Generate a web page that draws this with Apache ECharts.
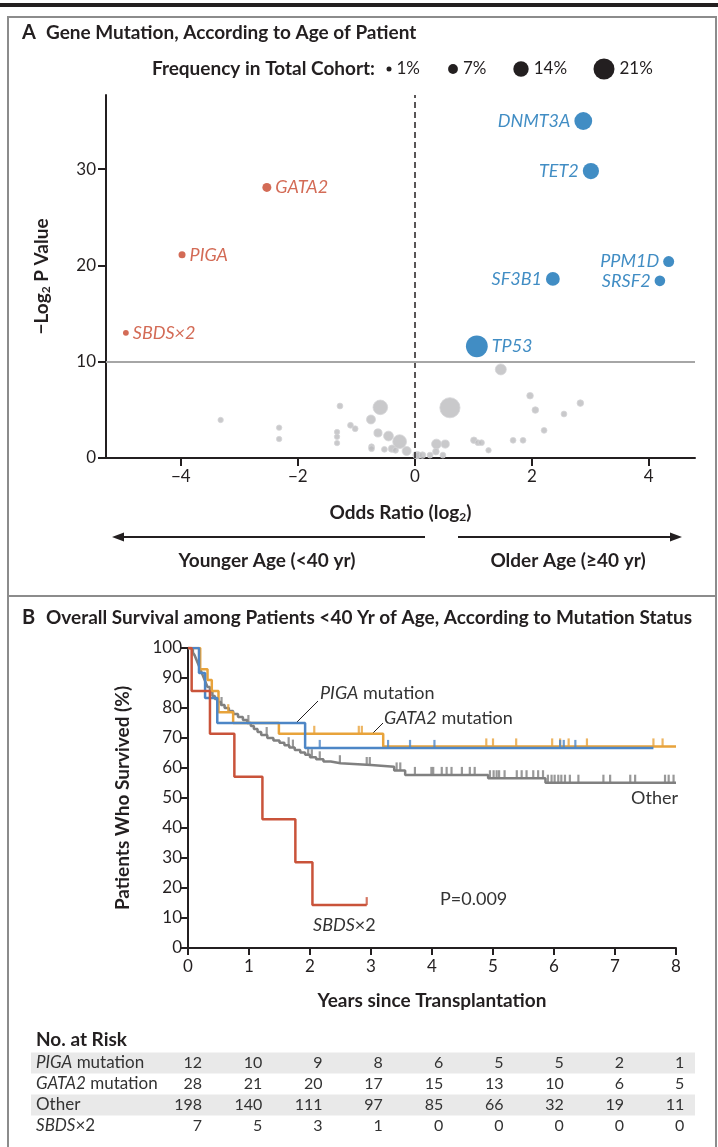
<!DOCTYPE html>
<html>
<head>
<meta charset="utf-8">
<script src="https://cdn.jsdelivr.net/npm/echarts@6.0.0/dist/echarts.min.js"></script>
<style>
  html, body { margin: 0; padding: 0; background: #fff; }
  #chart { width: 718px; height: 1147px; }
</style>
</head>
<body>
<div id="chart"></div>
<script>
// ---- Panel A data: log2 odds ratio, -log2 P value, frequency in cohort (%)
const geneNames = ['DNMT3A', 'TET2', 'GATA2', 'PIGA', 'PPM1D', 'SRSF2', 'SF3B1', 'SBDS×2', 'TP53'];
const geneOdds = [2.88, 3.01, -2.53, -3.98, 4.34, 4.19, 2.36, -4.94, 1.06];
const geneLogP = [35.0, 29.8, 28.1, 21.1, 20.4, 18.4, 18.6, 13.0, 11.6];
const geneFreq = [17, 15, 6, 3.5, 8.5, 8, 12, 2, 22];

const otherOdds = [-3.32, -2.32, -2.32, -1.28, -1.33, -1.33, -1.33, -1.10, -1.02, -0.59, -0.75, -0.63, -0.45, -0.26,
  -0.74, -0.74, -0.52, -0.39, -0.33, -0.14, 0.03, 0.60, 1.47, 1.97, 2.06, 2.83, 2.55, 2.21, 1.01, 1.08, 1.14, 1.26,
  1.68, 1.85, 0.37, 0.52, 0.36, 0.48, 0.26, 0.06, 0.13];
const otherLogP = [3.95, 3.15, 1.97, 5.4, 2.7, 2.2, 1.55, 3.4, 3.04, 5.26, 4.0, 2.6, 2.28, 1.7,
  1.17, 0.97, 0.9, 0.97, 0.8, 0.73, 0.3, 5.22, 9.2, 6.47, 4.98, 5.7, 4.57, 2.87, 1.84, 1.59, 1.59, 0.8,
  1.84, 1.84, 1.45, 1.45, 0.66, 0.3, 0.3, 0.3, 0.3];
const otherFreq = [1.5, 1.5, 1.5, 2, 1.5, 1.5, 1.5, 2, 2, 13, 6, 5, 7, 12,
  2, 2, 2, 4, 2, 6, 4, 20, 8.5, 3, 3, 3, 2, 2, 3, 2, 2, 1.5,
  2, 2, 7, 5, 3, 2, 2, 3, 3];

const legendFreq = [1, 7, 14, 21];
const oddsTicks = [-4, -2, 0, 2, 4];
const logPTicks = [0, 10, 20, 30];

// ---- Panel B data: Kaplan-Meier steps (years, % surviving) and censoring times
const pigaTimes = [0, 0.18, 0.28, 0.48, 1.92, 7.63];
const pigaSurv = [100, 91.7, 83.3, 75.0, 66.7, 66.7];
const pigaCensor = [2.16, 3.28, 3.64, 4.04, 6.10, 6.16, 6.35];

const gata2Times = [0, 0.20, 0.32, 0.39, 0.50, 0.74, 1.49, 3.20, 8.0];
const gata2Surv = [100, 92.9, 89.3, 85.7, 78.6, 75.0, 71.4, 67.2, 67.2];
const gata2Censor = [0.66, 2.07, 2.80, 2.85, 4.89, 5.00, 5.38, 5.97, 6.10, 6.24, 6.54, 7.63, 7.78];

const otherTimes = [0, 0.04, 0.08, 0.11, 0.14, 0.17, 0.20, 0.23, 0.26, 0.29, 0.32, 0.36, 0.40, 0.44, 0.49, 0.54,
  0.60, 0.67, 0.74, 0.82, 0.90, 0.97, 1.03, 1.08, 1.14, 1.20, 1.30, 1.40, 1.50, 1.58, 1.66, 1.75, 1.84, 1.92,
  2.00, 2.10, 2.22, 2.34, 2.50, 3.00, 3.38, 3.56, 4.92, 5.86, 8.0];
const otherSurv = [100, 99.5, 98.5, 97.5, 96, 94.5, 93, 91.5, 90, 88.5, 87, 85.5, 84, 83, 82, 81,
  80, 79, 78, 77, 76, 75, 74, 73, 72, 71, 70, 69.2, 68.4, 67.6, 66.8, 66, 65.2, 64.4,
  63.6, 62.9, 62.2, 61.6, 61, 60.4, 59.2, 57.7, 56.6, 55.1, 55.1];
const otherCensor = [0.55, 0.99, 1.29, 1.65, 1.72, 1.97, 2.03, 2.16, 2.49, 2.93, 2.98, 3.42, 3.48, 3.72, 3.99,
  4.02, 4.16, 4.24, 4.32, 4.49, 4.62, 4.70, 4.95, 5.01, 5.06, 5.10, 5.19, 5.39, 5.47, 5.55, 5.66, 5.74, 5.82,
  5.90, 5.96, 6.01, 6.07, 6.12, 6.18, 6.26, 6.40, 6.81, 6.92, 7.25, 7.33, 7.82, 7.88, 7.96];

const sbdsTimes = [0, 0.06, 0.36, 0.76, 1.22, 1.76, 2.04, 2.93];
const sbdsSurv = [100, 85.7, 71.4, 57.1, 42.9, 28.6, 14.3, 14.3];
const sbdsCensor = [2.93];

// ---- No. at risk table
const riskGroups = ['{i|PIGA} mutation', '{i|GATA2} mutation', 'Other', '{i|SBDS}×2'];
const riskPiga = [12, 10, 9, 8, 6, 5, 5, 2, 1];
const riskGata2 = [28, 21, 20, 17, 15, 13, 10, 6, 5];
const riskOther = [198, 140, 111, 97, 85, 66, 32, 19, 11];
const riskSbds = [7, 5, 3, 1, 0, 0, 0, 0, 0];

const FONT = 'Lato, "Open Sans", sans-serif';
const INK = '#231f20';
const RED = '#c8462c';
const BLUE = '#1170b5';
const C_GRAY = '#808080', C_ORANGE = '#e8a33b', C_BLUE = '#4d86c6', C_RED = '#c9533a';
const BOLD_SIZE = 19;
const TEXT_SIZE = 18;

const dotSize = (f) => 4.2 + 0.8 * f;
const minus = (v) => (v < 0 ? '\u2212' + Math.abs(v) : String(v));

function zip(a, b) { return a.map((v, i) => [v, b[i]]); }
// value of a KM step curve at time t (last step at or before t)
function stepAt(times, surv, t) {
  let s = surv[0];
  times.forEach((tt, i) => { if (tt <= t) s = surv[i]; });
  return s;
}

const chart = echarts.init(document.getElementById('chart'), null, { renderer: 'canvas' });

const geneData = geneNames.map((n, i) => {
  const younger = geneOdds[i] < 0;
  const color = younger ? RED : BLUE;
  const right = younger || n === 'TP53';
  return {
    name: n,
    value: [geneOdds[i], geneLogP[i], geneFreq[i]],
    itemStyle: { color },
    label: { position: right ? 'right' : 'left', color }
  };
});

function axisCommon(extra) {
  return Object.assign({
    type: 'value',
    axisLine: { show: true, onZero: false, lineStyle: { color: INK, width: 2 } },
    axisTick: { show: true, length: 7, lineStyle: { color: INK, width: 2 } },
    axisLabel: { color: INK, fontFamily: FONT, fontSize: 16 },
    splitLine: { show: false },
    nameTextStyle: {
      color: INK, fontFamily: FONT, fontSize: BOLD_SIZE, fontWeight: 'bold',
      rich: { sub: { fontFamily: FONT, fontSize: 12, fontWeight: 'bold', color: INK, padding: [8, 0, 0, 0] } }
    }
  }, extra);
}

const kmLine = (name, times, surv, color, z) => ({
  name, type: 'line', xAxisIndex: 1, yAxisIndex: 1, step: 'end', symbol: 'none', z,
  data: zip(times, surv), lineStyle: { color, width: 2.5 }, silent: true
});
const kmCensor = (name, times, surv, censor, color, z) => ({
  name: name + ' censored', type: 'scatter', xAxisIndex: 1, yAxisIndex: 1, z,
  symbol: 'rect', symbolSize: [2.2, 8], symbolOffset: [0, -4],
  itemStyle: { color }, silent: true,
  data: censor.map(t => [t, stepAt(times, surv, t)])
});

// graphic pieces
const graphics = [];
graphics.push({ type: 'rect', shape: { x: 0, y: 3, width: 718, height: 4 }, style: { fill: INK } });
graphics.push({ type: 'rect', shape: { x: 8, y: 17, width: 708, height: 1140 }, style: { fill: 'none', stroke: '#8c8c8c', lineWidth: 2 } });
graphics.push({ type: 'line', shape: { x1: 8, y1: 596, x2: 716, y2: 596 }, style: { stroke: '#8c8c8c', lineWidth: 2 } });

function txt(x, y, text, opt, size) {
  const fs = size || TEXT_SIZE;
  graphics.push({
    type: 'text', x, y,
    style: Object.assign({
      text, fill: INK, fontFamily: FONT, fontSize: fs,
      verticalAlign: 'middle', align: 'left',
      rich: { i: { fontStyle: 'italic', fontFamily: FONT, fontSize: fs, fill: (opt && opt.fill) || INK } }
    }, opt || {})
  });
}
txt(22, 33, 'A', { fontWeight: 'bold' }, 20);
txt(46, 33, 'Gene Mutation, According to Age of Patient', { fontWeight: 'bold' }, BOLD_SIZE);
txt(22, 618, 'B', { fontWeight: 'bold' }, 20);
txt(46, 618, 'Overall Survival among Patients <40 Yr of Age, According to Mutation Status', { fontWeight: 'bold' }, BOLD_SIZE);

// size legend
txt(375, 69, 'Frequency in Total Cohort:', { fontWeight: 'bold', align: 'right' }, BOLD_SIZE);
const legendX = [389, 453, 521, 604];
legendFreq.forEach((f, i) => {
  const r = dotSize(f) / 2;
  graphics.push({ type: 'circle', shape: { cx: legendX[i], cy: 69, r }, style: { fill: INK } });
  txt(legendX[i] + r + 5, 69, f + '%', {}, 17);
});

// age arrows
graphics.push({ type: 'line', shape: { x1: 120, y1: 537, x2: 425, y2: 537 }, style: { stroke: INK, lineWidth: 2 } });
graphics.push({ type: 'polygon', shape: { points: [[112, 537], [124, 532.5], [124, 541.5]] }, style: { fill: INK } });
graphics.push({ type: 'line', shape: { x1: 458, y1: 537, x2: 674, y2: 537 }, style: { stroke: INK, lineWidth: 2 } });
graphics.push({ type: 'polygon', shape: { points: [[682, 537], [670, 532.5], [670, 541.5]] }, style: { fill: INK } });
txt(267, 561, 'Younger Age (<40 yr)', { fontWeight: 'bold', align: 'center' }, BOLD_SIZE);
txt(568, 561, 'Older Age (\u226540 yr)', { fontWeight: 'bold', align: 'center' }, BOLD_SIZE);

// survival annotations
txt(320, 693, '{i|PIGA} mutation', { fill: '#333' });
graphics.push({ type: 'line', shape: { x1: 318, y1: 701, x2: 297, y2: 722 }, style: { stroke: INK, lineWidth: 1 } });
txt(384, 718, '{i|GATA2} mutation', { fill: '#333' });
graphics.push({ type: 'line', shape: { x1: 383, y1: 723, x2: 373, y2: 733 }, style: { stroke: INK, lineWidth: 1 } });
txt(678, 798, 'Other', { align: 'right', fill: '#333' });
txt(313, 925, '{i|SBDS}×2', { fill: '#333' });
txt(440, 899, 'P=0.009', { fill: '#333' });

// at-risk table
txt(36, 1040, 'No. at Risk', { fontWeight: 'bold' }, BOLD_SIZE);
const rowY = [1063, 1084, 1105, 1126];
[0, 2].forEach(r => {
  graphics.push({ type: 'rect', z: -1, shape: { x: 31, y: rowY[r] - 10.5, width: 664, height: 21 }, style: { fill: '#e9e9e9' } });
});
[riskPiga, riskGata2, riskOther, riskSbds].forEach((row, r) => {
  txt(36, rowY[r], riskGroups[r], { fill: '#333' }, 17);
  row.forEach((n, k) => txt(202 + 60.3 * k, rowY[r], String(n), { align: 'right', fill: '#333' }, 16));
});

const option = {
  backgroundColor: '#fff',
  animation: false,
  textStyle: { fontFamily: FONT },
  grid: [
    { left: 106, right: 23, top: 95, bottom: 689 },
    { left: 188, right: 42, top: 648, bottom: 199 }
  ],
  xAxis: [
    axisCommon({
      gridIndex: 0, min: -5.28, max: 4.79,
      axisTick: { show: true, length: 8, customValues: oddsTicks, lineStyle: { color: INK, width: 2 } },
      axisLabel: { color: INK, fontFamily: FONT, fontSize: 17, margin: 10, customValues: oddsTicks, formatter: minus },
      name: 'Odds Ratio (log{sub|2})', nameLocation: 'middle', nameGap: 45
    }),
    axisCommon({
      gridIndex: 1, min: 0, max: 8, interval: 1,
      axisLabel: { color: INK, fontFamily: FONT, fontSize: 17, margin: 10 },
      name: 'Years since Transplantation', nameLocation: 'middle', nameGap: 43
    })
  ],
  yAxis: [
    axisCommon({
      gridIndex: 0, min: 0, max: 37.7,
      axisTick: { show: true, length: 8, customValues: logPTicks, lineStyle: { color: INK, width: 2 } },
      axisLabel: { color: INK, fontFamily: FONT, fontSize: 17, margin: 10, customValues: logPTicks },
      name: '\u2212Log{sub|2} P Value', nameLocation: 'middle', nameRotate: 90, nameGap: 54
    }),
    axisCommon({
      gridIndex: 1, min: 0, max: 100, interval: 10,
      axisLabel: { color: INK, fontFamily: FONT, fontSize: 17, margin: 6 },
      name: 'Patients Who Survived (%)', nameLocation: 'middle', nameRotate: 90, nameGap: 56
    })
  ],
  series: [
    {
      name: 'Other genes', type: 'scatter', xAxisIndex: 0, yAxisIndex: 0, silent: true,
      data: otherOdds.map((x, i) => [x, otherLogP[i], otherFreq[i]]),
      symbolSize: (v) => dotSize(v[2]),
      itemStyle: { color: '#bcbcbe', borderColor: '#d6d6d8', borderWidth: 1 },
      markLine: {
        silent: true, symbol: 'none', label: { show: false },
        data: [
          { xAxis: 0, lineStyle: { color: INK, width: 1.5, type: [6, 4] } },
          { yAxis: 10, lineStyle: { color: '#a6a6a6', width: 2, type: 'solid' } }
        ]
      },
      z: 2
    },
    {
      name: 'Genes', type: 'scatter', xAxisIndex: 0, yAxisIndex: 0, silent: true,
      data: geneData,
      symbolSize: (v) => dotSize(v[2]),
      label: {
        show: true, formatter: '{b}', fontFamily: FONT, fontSize: 18, fontStyle: 'italic', distance: 4
      },
      z: 3
    },
    kmLine('Other', otherTimes, otherSurv, C_GRAY, 2),
    kmCensor('Other', otherTimes, otherSurv, otherCensor, C_GRAY, 2),
    kmLine('GATA2 mutation', gata2Times, gata2Surv, C_ORANGE, 3),
    kmCensor('GATA2 mutation', gata2Times, gata2Surv, gata2Censor, C_ORANGE, 3),
    kmLine('PIGA mutation', pigaTimes, pigaSurv, C_BLUE, 4),
    kmCensor('PIGA mutation', pigaTimes, pigaSurv, pigaCensor, C_BLUE, 4),
    kmLine('SBDS×2', sbdsTimes, sbdsSurv, C_RED, 5),
    kmCensor('SBDS×2', sbdsTimes, sbdsSurv, sbdsCensor, C_RED, 5)
  ],
  graphic: graphics
};

chart.setOption(option);
window.addEventListener('resize', () => chart.resize());
</script>
</body>
</html>
